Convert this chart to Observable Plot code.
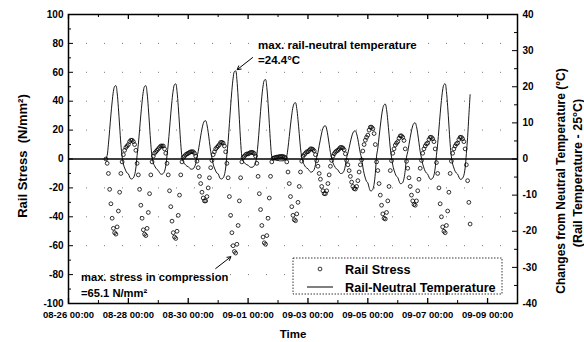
<!DOCTYPE html>
<html><head><meta charset="utf-8">
<script src="https://cdn.jsdelivr.net/npm/d3@7"></script>
<script src="https://cdn.jsdelivr.net/npm/@observablehq/plot@0.6"></script>
<style>body{margin:0;background:#fff}</style>
</head><body><div id="chart"></div>
<script>
// hours after 08-26 00:00 of the first hourly reading (08-27 06:00)
const startHour = 30;

// Rail-neutral temperature (°C, right axis), hourly
const tempC = [
  0, 1.0, 4.1, 8.1, 12.2, 15.8, 18.7, 20.1, 20.3, 18.3, 14.2, 9.1, 4.1, 0.6, -1.4, -2.5, -3.3, -3.9,
  -4.1, -5.0, -5.5, -5.5, -5.2, -4.4, -2.5, 1.0, 4.1, 8.1, 12.2, 15.8, 18.7, 20.1, 20.3, 18.3, 14.2, 9.1, 4.1, 0.6, -1.1, -1.9, -2.5, -2.9,
  -3.2, -3.8, -4.2, -4.2, -4.0, -3.4, -1.9, 1.0, 4.2, 8.3, 12.5, 16.2, 19.1, 20.6, 20.8, 18.7, 14.6, 9.4, 4.2, 0.6, -0.7, -1.3, -1.7, -2.0,
  -2.1, -2.5, -2.8, -2.8, -2.7, -2.2, -1.3, 0.5, 2.1, 4.2, 6.4, 8.3, 9.8, 10.5, 10.6, 9.5, 7.4, 4.8, 2.1, 0.3, -1.4, -2.5, -3.3, -3.9,
  -4.1, -5.0, -5.5, -5.5, -5.2, -4.4, -2.5, 1.2, 4.9, 9.8, 14.6, 19.0, 22.4, 24.2, 24.4, 22.0, 17.1, 11.0, 4.9, 0.7, -0.6, -1.0, -1.4, -1.6,
  -1.7, -2.1, -2.3, -2.3, -2.2, -1.8, -1.0, 1.1, 4.4, 8.8, 13.2, 17.2, 20.2, 21.8, 22.0, 19.8, 15.4, 9.9, 4.4, 0.7, -0.1, -0.2, -0.3, -0.4,
  -0.4, -0.5, -0.5, -0.5, -0.5, -0.4, -0.2, 0.8, 3.1, 6.2, 9.4, 12.2, 14.4, 15.4, 15.6, 14.0, 10.9, 7.0, 3.1, 0.5, -0.9, -1.6, -2.2, -2.5,
  -2.7, -3.2, -3.6, -3.6, -3.4, -2.9, -1.6, 0.5, 1.8, 3.7, 5.5, 7.2, 8.5, 9.1, 9.2, 8.3, 6.4, 4.1, 1.8, 0.3, -1.0, -1.8, -2.4, -2.8,
  -3.0, -3.6, -4.0, -4.0, -3.8, -3.2, -1.8, 0.4, 1.6, 3.1, 4.7, 6.1, 7.2, 7.7, 7.8, 7.0, 5.5, 3.5, 1.6, 0.2, -2.2, -4.0, -5.3, -6.2,
  -6.6, -7.9, -8.8, -8.8, -8.4, -7.0, -4.0, 0.8, 3.0, 6.1, 9.1, 11.9, 14.0, 15.0, 15.2, 13.7, 10.6, 6.8, 3.0, 0.5, -1.7, -3.1, -4.1, -4.8,
  -5.1, -6.1, -6.8, -6.8, -6.5, -5.4, -3.1, 0.5, 2.0, 4.0, 6.0, 7.8, 9.2, 9.9, 10.0, 9.0, 7.0, 4.5, 2.0, 0.3, -1.4, -2.5, -3.4, -3.9,
  -4.2, -5.0, -5.6, -5.6, -5.3, -4.5, -2.5, 1.0, 4.2, 8.3, 12.5, 16.2, 19.1, 20.6, 20.8, 18.7, 14.6, 9.4, 4.2, 0.6, -1.4, -2.5, -3.4, -3.9,
  -4.2, -5.0, -5.6, -5.6, -5.3, -4.5, -2.5, 1.5, 6.0, 12.0, 17.8
];

// Rail stress (N/mm², left axis), hourly
const stress = [
  0, -3, -10, -21, -31, -41, -48, -51, -52, -47, -36, -23, -10, -2, 3, 6, 8, 9,
  10, 12, 13, 13, 12, 10, 6, -3, -11, -21, -32, -41, -49, -52, -53, -48, -37, -24, -11, -2, 2, 4, 5, 6,
  7, 8, 9, 9, 9, 7, 4, -3, -11, -22, -33, -43, -51, -54, -55, -50, -39, -25, -11, -2, 1, 2, 3, 3.5,
  4, 4.5, 5, 5, 5, 4, 2, -1.5, -6, -12, -17, -23, -27, -29, -29, -26, -20, -13, -6, -1, 3, 5, 7, 8,
  9, 10, 11.5, 11.5, 11, 9, 5, -3, -13, -26, -39, -51, -60, -64, -65.1, -59, -46, -29, -13, -2, 1, 2, 3, 3.5,
  3.5, 4, 4.6, 4.6, 4.4, 3.7, 2, -3, -12, -24, -35, -46, -54, -58, -59, -53, -41, -27, -12, -2, 0.5, 0.8, 1.1, 1.3,
  1.4, 1.6, 1.8, 1.8, 1.7, 1.4, 0.8, -2, -9, -17, -26, -33, -39, -42, -42.7, -38, -30, -19, -9, -1.5, 2, 3, 4, 5,
  5, 6, 7, 7, 6.6, 5.6, 3, -1.2, -5, -10, -14, -19, -22, -24, -24, -22, -17, -11, -5, -1, 2, 3.6, 4.8, 5.6,
  6, 7, 8, 8, 7.6, 6.4, 3.6, -1, -4, -8, -12, -16, -19, -20.5, -20.8, -19, -15, -9, -4, -0.6, 5.5, 10, 13, 15,
  16.5, 20, 22, 22, 21, 17.6, 10, -2, -8, -17, -25, -32, -38, -41, -41.5, -37, -29, -19, -8, -1.2, 4, 7, 9.6, 11,
  12, 14.4, 16, 16, 15, 12.8, 7, -1.6, -6.4, -13, -19, -25, -29, -31.5, -32, -29, -22, -14, -6.4, -1, 4, 7, 9, 10.5,
  11, 13.5, 15, 15, 14, 12, 7, -2.5, -10, -20, -31, -40, -47, -50, -51, -46, -36, -23, -10, -1.5, 4, 7, 9, 10.5,
  11, 13.5, 15, 15, 14, 12, 7, -4, -15, -30, -45
];

const xTickHours = [0, 48, 96, 144, 192, 240, 288, 336];
const xTickLabels = ["08-26 00:00", "08-28 00:00", "08-30 00:00", "09-01 00:00", "09-03 00:00", "09-05 00:00", "09-07 00:00", "09-09 00:00"];
const xMinorHours = [24, 72, 120, 168, 216, 264, 312];
const stressTicks = [-100, -80, -60, -40, -20, 0, 20, 40, 60, 80, 100];
const stressMinor = [-90, -70, -50, -30, -10, 10, 30, 50, 70, 90];
const tempTicks = [-40, -30, -20, -10, 0, 10, 20, 30, 40];
const tempMinor = [-35, -25, -15, -5, 5, 15, 25, 35];
const gridLevels = [-80, -60, -40, -20, 20, 40, 60, 80];
const degPerStress = 2.5; // 40 °C on the right axis ↔ 100 N/mm² on the left

const rows = tempC.map((t, i) => ({hour: startHour + i, temp: t, stress: stress[i]}));
const maxT = rows.reduce((a, b) => (b.temp > a.temp ? b : a));
const minS = rows.reduce((a, b) => (b.stress < a.stress ? b : a));

const W = 584, H = 342, mL = 68, mR = 67, mT = 14, mB = 39;
const pw = W - mL - mR, ph = H - mT - mB;
const font = "Liberation Sans, Arial, sans-serif";

const chart = Plot.plot({
  width: W, height: H,
  marginLeft: mL, marginRight: mR, marginTop: mT, marginBottom: mB,
  style: {fontFamily: font, background: "white", color: "black"},
  x: {domain: [0, 360]},
  y: {domain: [-100, 100]},
  marks: [
    Plot.ruleY(gridLevels, {stroke: "#777", strokeWidth: 1, strokeDasharray: "1 17"}),
    Plot.ruleY([0], {stroke: "black", strokeWidth: 1.5}),
    Plot.line(rows, {x: "hour", y: d => d.temp * degPerStress, stroke: "black", strokeWidth: 0.9, curve: "catmull-rom"}),
    Plot.dot(rows, {x: "hour", y: "stress", r: 1.9, stroke: "black", strokeWidth: 0.8, fill: "none"}),
    Plot.frame({stroke: "black", strokeWidth: 1.5}),
    // inward ticks
    Plot.tickY(stressTicks, {y: d => d, insetRight: pw - 5, stroke: "black"}),
    Plot.tickY(stressMinor, {y: d => d, insetRight: pw - 3, stroke: "black"}),
    Plot.tickY(tempTicks, {y: d => d * degPerStress, insetLeft: pw - 5, stroke: "black"}),
    Plot.tickY(tempMinor, {y: d => d * degPerStress, insetLeft: pw - 3, stroke: "black"}),
    Plot.tickX(xTickHours, {x: d => d, insetBottom: ph - 5, stroke: "black", strokeWidth: 1.3}),
    Plot.tickX(xMinorHours, {x: d => d, insetBottom: ph - 3, stroke: "black"}),
    Plot.tickX(xTickHours, {x: d => d, insetTop: ph - 5, stroke: "black", strokeWidth: 1.3}),
    Plot.tickX(xMinorHours, {x: d => d, insetTop: ph - 3, stroke: "black"}),
    Plot.axisX({ticks: xTickHours, tickFormat: h => xTickLabels[xTickHours.indexOf(h)], tickSize: 0, tickPadding: 8,
      fontSize: 9.5, fontWeight: "bold", fontFamily: font, label: null}),
    Plot.axisY({anchor: "left", ticks: stressTicks, tickFormat: d => String(d), tickSize: 0, tickPadding: 5,
      fontSize: 10, fontWeight: "bold", fontFamily: font, label: null}),
    Plot.axisY({anchor: "right", ticks: tempTicks.map(t => t * degPerStress), tickFormat: v => String(Math.round(v / degPerStress)),
      tickSize: 0, tickPadding: 5, fontSize: 10, fontWeight: "bold", fontFamily: font, label: null}),
    // annotations
    Plot.text(["max. rail-neutral temperature"], {x: maxT.hour + 18, y: 79, text: d => d, textAnchor: "start", fontSize: 11.5, fontWeight: "bold", fontFamily: font}),
    Plot.text(["=24.4°C"], {x: maxT.hour + 18, y: 68, text: d => d, textAnchor: "start", fontSize: 11.5, fontWeight: "bold", fontFamily: font}),
    Plot.arrow([maxT], {x1: maxT.hour + 13.6, y1: 70.2, x2: "hour", y2: d => d.temp * degPerStress, insetEnd: 2, stroke: "black", strokeWidth: 1, headLength: 6}),
    Plot.text(["max. stress in compression"], {x: 10, y: -82, text: d => d, textAnchor: "start", fontSize: 11.2, fontWeight: "bold", fontFamily: font}),
    Plot.text(["=65.1 N/mm²"], {x: 10, y: -93, text: d => d, textAnchor: "start", fontSize: 11.2, fontWeight: "bold", fontFamily: font}),
    Plot.arrow([minS], {x1: minS.hour - 16, y1: -75.8, x2: "hour", y2: "stress", insetEnd: 6, stroke: "black", strokeWidth: 1, headLength: 6})
  ]
});
document.getElementById("chart").appendChild(chart);

const svg = d3.select(chart);
// axis titles
svg.append("text").attr("transform", "translate(27,156) rotate(-90)").attr("text-anchor", "middle")
  .attr("font-family", font).attr("font-weight", "bold").attr("font-size", 13).text("Rail Stress  (N/mm²)");
svg.append("text").attr("x", 293).attr("y", 338).attr("text-anchor", "middle")
  .attr("font-family", font).attr("font-weight", "bold").attr("font-size", 11.5).text("Time");
svg.append("text").attr("transform", "translate(565,181) rotate(-90)").attr("text-anchor", "middle")
  .attr("font-family", font).attr("font-weight", "bold").attr("font-size", 12).text("Changes from Neutral Temperature (°C)");
svg.append("text").attr("transform", "translate(582,173) rotate(-90)").attr("text-anchor", "middle")
  .attr("font-family", font).attr("font-weight", "bold").attr("font-size", 12.5).text("(Rail Temperature - 25°C)");

// legend
const lg = svg.append("g").attr("text-anchor", "start");
lg.append("rect").attr("x", 293).attr("y", 258).attr("width", 209).attr("height", 36)
  .attr("fill", "white").attr("stroke", "black").attr("stroke-width", 0.8).attr("stroke-dasharray", "1.5 1.5");
lg.append("circle").attr("cx", 320).attr("cy", 269).attr("r", 1.9).attr("fill", "none").attr("stroke", "black").attr("stroke-width", 0.8);
lg.append("line").attr("x1", 307).attr("x2", 333).attr("y1", 287).attr("y2", 287).attr("stroke", "black").attr("stroke-width", 1);
lg.append("text").attr("x", 345).attr("y", 273.5).attr("text-anchor", "start").attr("font-family", font).attr("font-weight", "bold").attr("font-size", 12.7).text("Rail Stress");
lg.append("text").attr("x", 345).attr("y", 291.5).attr("text-anchor", "start").attr("font-family", font).attr("font-weight", "bold").attr("font-size", 12.7).text("Rail-Neutral Temperature");
</script>
</body></html>
